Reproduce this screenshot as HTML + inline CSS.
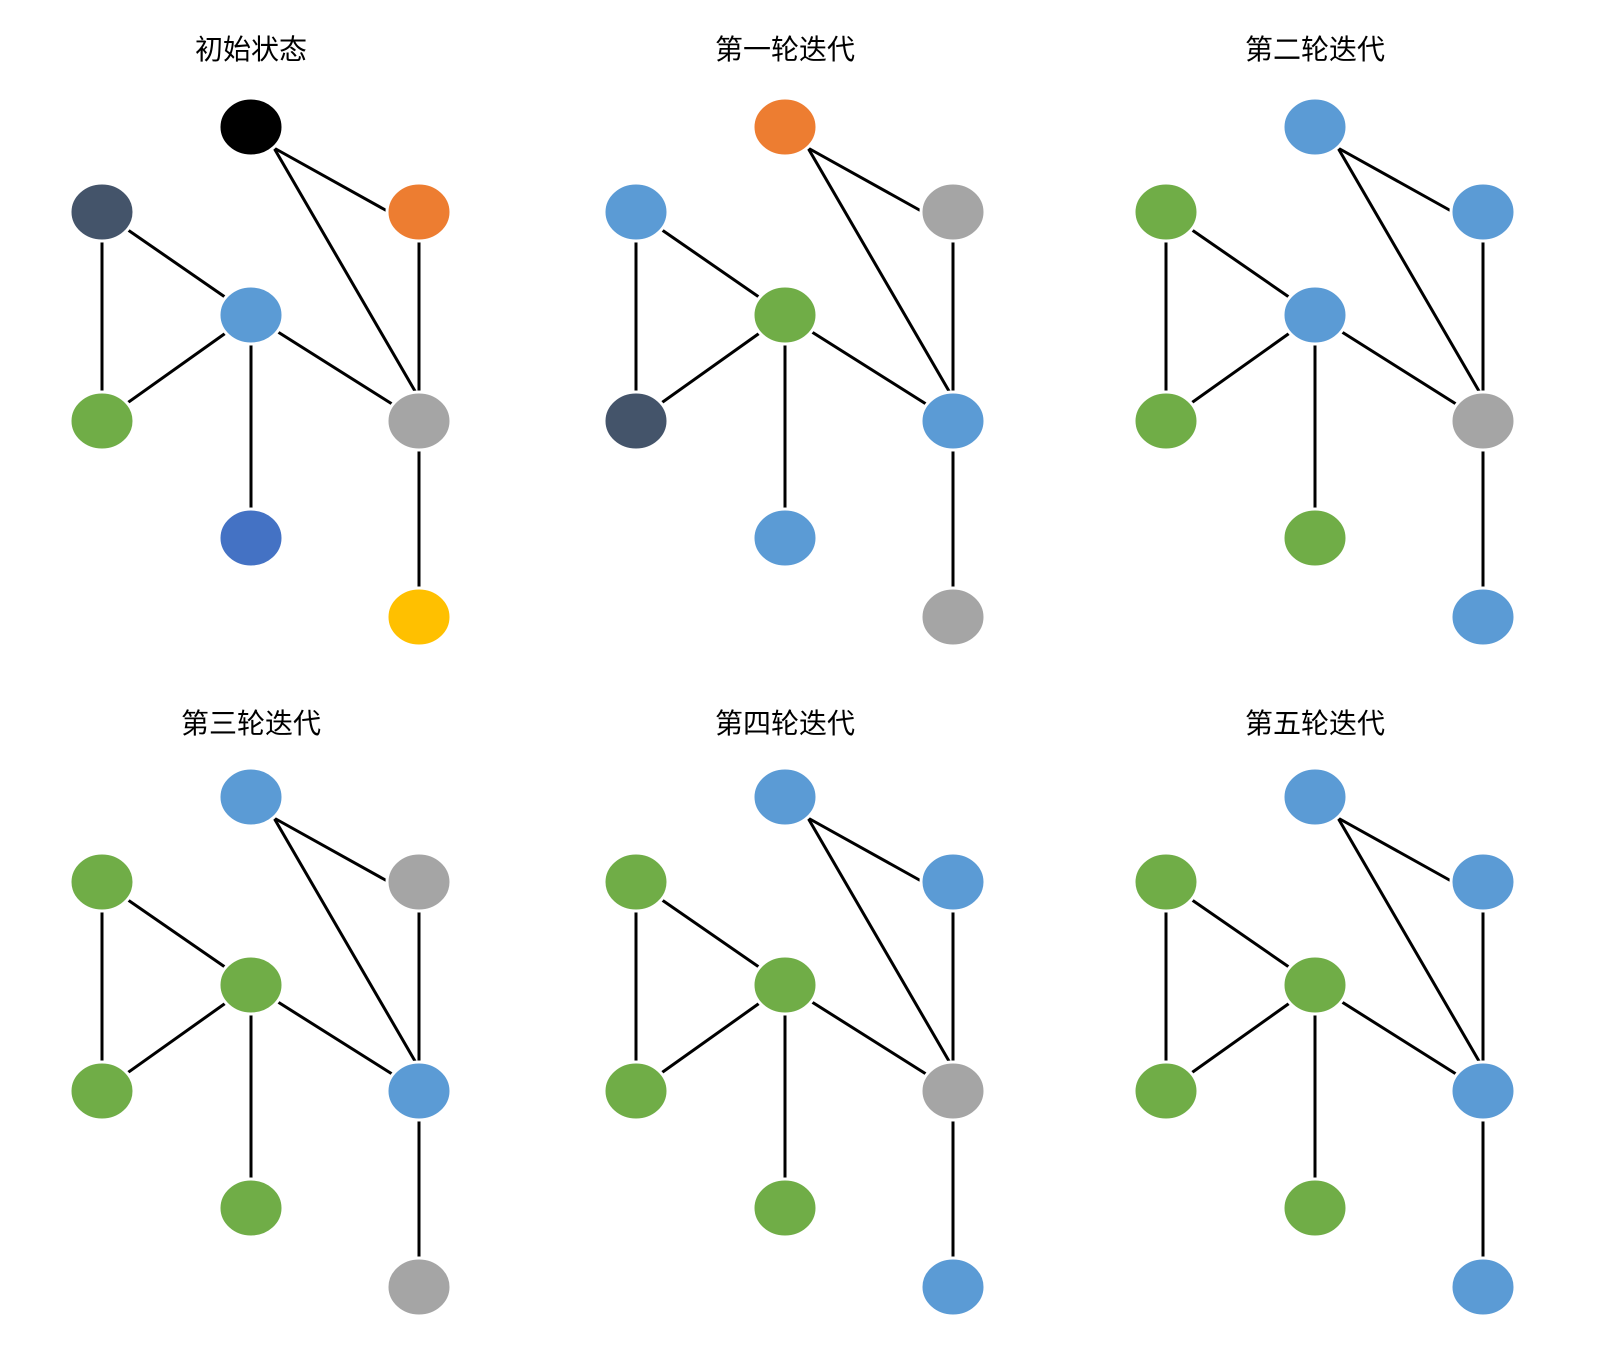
<!DOCTYPE html>
<html><head><meta charset="utf-8"><style>
html,body{margin:0;padding:0;background:#fff;}
svg{display:block;}
text{font-family:"Liberation Sans","Noto Sans CJK SC",sans-serif;font-size:28px;fill:#000;text-anchor:middle;}
</style></head><body>
<svg width="1600" height="1350" viewBox="0 0 1600 1350" xmlns="http://www.w3.org/2000/svg">
<defs>
<g id="edges" stroke="#000" stroke-width="3" fill="none">
<line x1="274" y1="148" x2="389" y2="212"/>
<line x1="274" y1="148" x2="419" y2="398"/>
<line x1="102" y1="212" x2="251" y2="315"/>
<line x1="102" y1="212" x2="102" y2="421"/>
<line x1="251" y1="315" x2="102" y2="421"/>
<line x1="251" y1="315" x2="419" y2="421"/>
<line x1="251" y1="315" x2="251" y2="538"/>
<line x1="419" y1="212" x2="419" y2="421"/>
<line x1="419" y1="421" x2="419" y2="617"/>
</g>
</defs>
<g stroke="#fff" stroke-width="3">
<g transform="translate(0,0)">
<text x="251" y="59" stroke="none">初始状态</text>
<use href="#edges"/>
<ellipse cx="251" cy="127" rx="32" ry="29" fill="#000"/>
<ellipse cx="102" cy="212" rx="32" ry="29" fill="#44546A"/>
<ellipse cx="419" cy="212" rx="32" ry="29" fill="#ED7D31"/>
<ellipse cx="251" cy="315" rx="32" ry="29" fill="#5B9BD5"/>
<ellipse cx="102" cy="421" rx="32" ry="29" fill="#70AD47"/>
<ellipse cx="419" cy="421" rx="32" ry="29" fill="#A5A5A5"/>
<ellipse cx="251" cy="538" rx="32" ry="29" fill="#4472C4"/>
<ellipse cx="419" cy="617" rx="32" ry="29" fill="#FFC000"/>
</g>
<g transform="translate(534,0)">
<text x="251" y="59" stroke="none">第一轮迭代</text>
<use href="#edges"/>
<ellipse cx="251" cy="127" rx="32" ry="29" fill="#ED7D31"/>
<ellipse cx="102" cy="212" rx="32" ry="29" fill="#5B9BD5"/>
<ellipse cx="419" cy="212" rx="32" ry="29" fill="#A5A5A5"/>
<ellipse cx="251" cy="315" rx="32" ry="29" fill="#70AD47"/>
<ellipse cx="102" cy="421" rx="32" ry="29" fill="#44546A"/>
<ellipse cx="419" cy="421" rx="32" ry="29" fill="#5B9BD5"/>
<ellipse cx="251" cy="538" rx="32" ry="29" fill="#5B9BD5"/>
<ellipse cx="419" cy="617" rx="32" ry="29" fill="#A5A5A5"/>
</g>
<g transform="translate(1064,0)">
<text x="251" y="59" stroke="none">第二轮迭代</text>
<use href="#edges"/>
<ellipse cx="251" cy="127" rx="32" ry="29" fill="#5B9BD5"/>
<ellipse cx="102" cy="212" rx="32" ry="29" fill="#70AD47"/>
<ellipse cx="419" cy="212" rx="32" ry="29" fill="#5B9BD5"/>
<ellipse cx="251" cy="315" rx="32" ry="29" fill="#5B9BD5"/>
<ellipse cx="102" cy="421" rx="32" ry="29" fill="#70AD47"/>
<ellipse cx="419" cy="421" rx="32" ry="29" fill="#A5A5A5"/>
<ellipse cx="251" cy="538" rx="32" ry="29" fill="#70AD47"/>
<ellipse cx="419" cy="617" rx="32" ry="29" fill="#5B9BD5"/>
</g>
<g transform="translate(0,670)">
<text x="251" y="63" stroke="none">第三轮迭代</text>
<use href="#edges"/>
<ellipse cx="251" cy="127" rx="32" ry="29" fill="#5B9BD5"/>
<ellipse cx="102" cy="212" rx="32" ry="29" fill="#70AD47"/>
<ellipse cx="419" cy="212" rx="32" ry="29" fill="#A5A5A5"/>
<ellipse cx="251" cy="315" rx="32" ry="29" fill="#70AD47"/>
<ellipse cx="102" cy="421" rx="32" ry="29" fill="#70AD47"/>
<ellipse cx="419" cy="421" rx="32" ry="29" fill="#5B9BD5"/>
<ellipse cx="251" cy="538" rx="32" ry="29" fill="#70AD47"/>
<ellipse cx="419" cy="617" rx="32" ry="29" fill="#A5A5A5"/>
</g>
<g transform="translate(534,670)">
<text x="251" y="63" stroke="none">第四轮迭代</text>
<use href="#edges"/>
<ellipse cx="251" cy="127" rx="32" ry="29" fill="#5B9BD5"/>
<ellipse cx="102" cy="212" rx="32" ry="29" fill="#70AD47"/>
<ellipse cx="419" cy="212" rx="32" ry="29" fill="#5B9BD5"/>
<ellipse cx="251" cy="315" rx="32" ry="29" fill="#70AD47"/>
<ellipse cx="102" cy="421" rx="32" ry="29" fill="#70AD47"/>
<ellipse cx="419" cy="421" rx="32" ry="29" fill="#A5A5A5"/>
<ellipse cx="251" cy="538" rx="32" ry="29" fill="#70AD47"/>
<ellipse cx="419" cy="617" rx="32" ry="29" fill="#5B9BD5"/>
</g>
<g transform="translate(1064,670)">
<text x="251" y="63" stroke="none">第五轮迭代</text>
<use href="#edges"/>
<ellipse cx="251" cy="127" rx="32" ry="29" fill="#5B9BD5"/>
<ellipse cx="102" cy="212" rx="32" ry="29" fill="#70AD47"/>
<ellipse cx="419" cy="212" rx="32" ry="29" fill="#5B9BD5"/>
<ellipse cx="251" cy="315" rx="32" ry="29" fill="#70AD47"/>
<ellipse cx="102" cy="421" rx="32" ry="29" fill="#70AD47"/>
<ellipse cx="419" cy="421" rx="32" ry="29" fill="#5B9BD5"/>
<ellipse cx="251" cy="538" rx="32" ry="29" fill="#70AD47"/>
<ellipse cx="419" cy="617" rx="32" ry="29" fill="#5B9BD5"/>
</g>
</g>
</svg>
</body></html>
